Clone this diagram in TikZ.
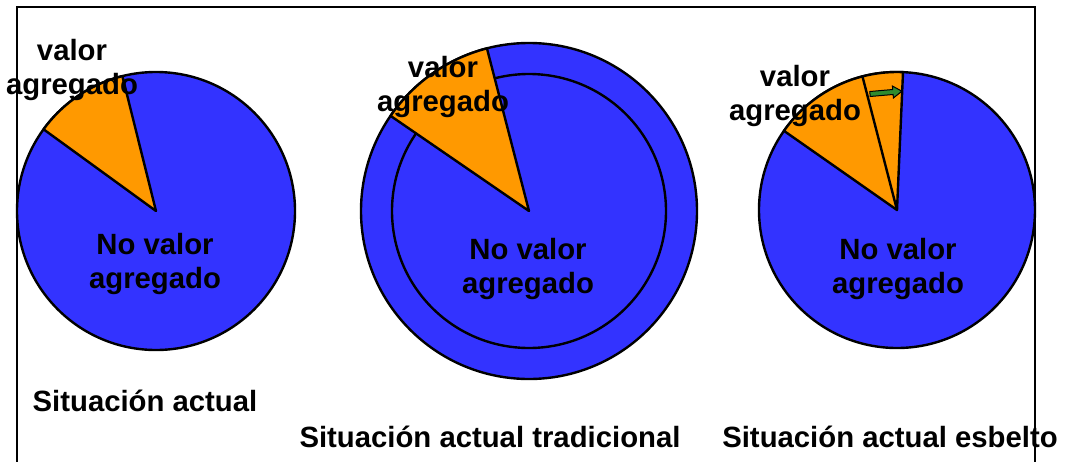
\documentclass[tikz,border=0pt]{standalone}
\usepackage{fontspec}
\setmainfont{Liberation Sans}
\begin{document}
\begin{tikzpicture}[x=1pt,y=-1pt,
  bluefill/.style={fill=pieblue,draw=black,line width=2.4pt},
  orangefill/.style={fill=pieorange,draw=black,line width=2.4pt,line join=round},
  lbl/.style={font=\bfseries\fontsize{29.3}{33.5}\selectfont,align=center,inner sep=0pt,anchor=base},
  greenarrow/.style={fill=arrowgreen,draw=black,line width=1pt,line join=miter}
]
\definecolor{pieblue}{HTML}{3333FF}
\definecolor{pieorange}{HTML}{FF9900}
\definecolor{arrowgreen}{HTML}{2E8B2E}
\useasboundingbox (0,0) rectangle (1066,461);
% frame
\draw[line width=2pt] (17,470) -- (17,7) -- (1035,7) -- (1035,470);

% Pie 1
\coordinate (c1) at (156,211);
\draw[bluefill] (c1) circle[radius=139];
\draw[orangefill] (c1) -- ++(-104:139) arc[start angle=-104,end angle=-144,radius=139] -- cycle;

% Pie 2
\coordinate (c2) at (529,211);
\draw[bluefill] (c2) circle[radius=168];
\draw[line width=2.4pt] (c2) circle[radius=137];
\draw[orangefill] (c2) -- ++(-104.5:168) arc[start angle=-104.5,end angle=-145.5,radius=168] -- cycle;

% Pie 3
\coordinate (c3) at (897,210);
\draw[bluefill] (c3) circle[radius=138];
\draw[orangefill] (c3) -- ++(-87.5:138) arc[start angle=-87.5,end angle=-145,radius=138] -- cycle;
\draw[line width=2.4pt] (c3) -- ++(-104.5:138);
% green arrow
\begin{scope}[shift={(870,94)},rotate=5]
\draw[greenarrow] (0,-2.5) -- (23,-2.5) -- (23,-6) -- (32,0) -- (23,6) -- (23,2.5) -- (0,2.5) -- cycle;
\end{scope}

% labels (anchor at baseline of last line)
\node[lbl] (v1) at (72,94) {valor\\agregado};
\node[lbl] (n1) at (155,288) {No valor\\agregado};
\node[lbl] (v2) at (443,111) {valor\\agregado};
\node[lbl] (n2) at (528,293) {No valor\\agregado};
\node[lbl] (v3) at (795,120) {valor\\agregado};
\node[lbl] (n3) at (898,293) {No valor\\agregado};
\node[lbl] (s1) at (145,411) {Situación actual};
\node[lbl] (s2) at (490,447) {Situación actual tradicional};
\node[lbl] (s3) at (890,447) {Situación actual esbelto};
\end{tikzpicture}
\end{document}
